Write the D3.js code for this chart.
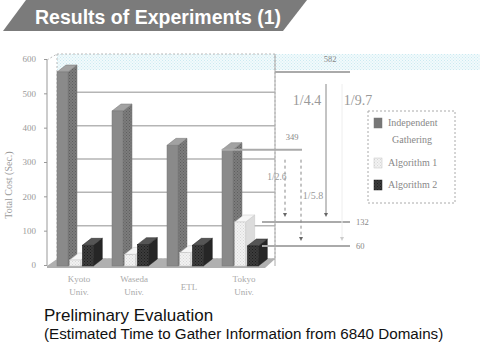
<!DOCTYPE html>
<html>
<head>
<meta charset="utf-8">
<script src="https://cdn.jsdelivr.net/npm/d3@7"></script>
<style>
  body { margin: 0; background: #fff; }
  svg { display: block; }
</style>
</head>
<body>
<svg id="svg"></svg>
<script>
var width = 480, height = 363;

// data
var categories = ['Kyoto Univ.', 'Waseda Univ.', 'ETL', 'Tokyo Univ.'];
var seriesNames = ['Independent Gathering', 'Algorithm 1', 'Algorithm 2'];
var independent = [582, 465, 362, 349];
var algorithm1 = [18, 35, 40, 132];
var algorithm2 = [62, 64, 62, 60];
var yTicks = [0, 100, 200, 300, 400, 500, 600];
var markValues = [582, 349, 132, 60];
var ratioLabels = ['1/4.4', '1/9.7', '1/2.6', '1/5.8'];

var seriesValues = [independent, algorithm1, algorithm2];
var svg = d3.select('#svg').attr('width', width).attr('height', height);

var defs = svg.append('defs');
function dots(id, bg, fg) {
  var p = defs.append('pattern').attr('id', id).attr('width', 3).attr('height', 3)
    .attr('patternUnits', 'userSpaceOnUse');
  p.append('rect').attr('width', 3).attr('height', 3).attr('fill', bg);
  p.append('rect').attr('width', 1).attr('height', 1).attr('fill', fg);
  p.append('rect').attr('x', 1.5).attr('y', 1.5).attr('width', 1).attr('height', 1).attr('fill', fg);
}
dots('sideIndep', '#7c7c7c', '#5e5e5e');
dots('frontAlg1', '#f2f2f2', '#d8d8d8');
dots('frontAlg2', '#3c3c3c', '#1e1e1e');
dots('cyan', '#f2fafc', '#cbeaf1');

// title banner
svg.append('polygon').attr('points', '3,31 26,0 307,0 283,31').attr('fill', '#7b7b7b');
svg.append('text').attr('x', 35).attr('y', 24)
  .attr('font-family', 'Liberation Sans, Arial, sans-serif').attr('font-weight', 'bold')
  .attr('font-size', 19.5).attr('fill', '#fff').text('Results of Experiments (1)');

// scales
var y = d3.scaleLinear().domain([0, 600]).range([266, 66]);
var yAxisScale = d3.scaleLinear().domain([0, 600]).range([265, 59]);
var x = d3.scaleBand().domain(categories).range([57, 277]);
var xs = d3.scaleBand().domain(seriesNames).range([0, 38]);
var barW = 11, dx = 9, dy = -7;

// light cyan band at top
svg.append('rect').attr('x', 57).attr('y', 54).attr('width', 423).attr('height', 16)
  .attr('fill', 'url(#cyan)');

// back wall
var wallL = 57, wallR = 275, wallT = 54, wallB = y(0) + dy;
svg.append('rect').attr('x', wallL).attr('y', wallT).attr('width', wallR - wallL)
  .attr('height', wallB - wallT).attr('fill', 'none').attr('stroke', '#bbb')
  .attr('stroke-dasharray', '2,2');
svg.selectAll('line.grid').data(yTicks.slice(0, 6)).enter().append('line')
  .attr('x1', wallL).attr('x2', wallR)
  .attr('y1', function (d) { return y(d) + dy; }).attr('y2', function (d) { return y(d) + dy; })
  .attr('stroke', '#b5b5b5').attr('stroke-width', 1.5);

// left axis + side wall
svg.append('line').attr('x1', 47).attr('x2', 47).attr('y1', 60).attr('y2', 266)
  .attr('stroke', '#999');
svg.append('line').attr('x1', 47).attr('x2', wallL).attr('y1', 60).attr('y2', wallT)
  .attr('stroke', '#bbb').attr('stroke-dasharray', '2,2');
svg.append('line').attr('x1', wallR).attr('x2', wallR).attr('y1', wallT).attr('y2', 266)
  .attr('stroke', '#aaa');

// floor
svg.append('polygon')
  .attr('points', [[47, y(0)], [wallL, wallB], [wallR, wallB], [wallR - 10, y(0) + 2], [47, y(0) + 2]].join(' '))
  .attr('fill', '#b0b0b0');

var axis = d3.axisLeft(yAxisScale).tickValues(yTicks).tickSize(3).tickPadding(8);
var gAxis = svg.append('g').attr('transform', 'translate(47,0)').call(axis);
gAxis.select('.domain').remove();
gAxis.selectAll('line').attr('stroke', '#999');
gAxis.selectAll('text').attr('font-family', 'Liberation Serif, serif').attr('font-size', 9)
  .attr('fill', '#999');

svg.append('text').attr('transform', 'translate(12,185) rotate(-90)').attr('text-anchor', 'middle')
  .attr('font-family', 'Liberation Serif, serif').attr('font-size', 10).attr('fill', '#999')
  .text('Total Cost (Sec.)');

// bars
var styles = [
  { front: '#8a8a8a', side: 'url(#sideIndep)', top: '#a2a2a2', stroke: '#777' },
  { front: 'url(#frontAlg1)', side: '#dcdcdc', top: '#f6f6f6', stroke: '#c4c4c4' },
  { front: 'url(#frontAlg2)', side: '#262626', top: '#555', stroke: '#222' }
];
categories.forEach(function (c, ci) {
  seriesNames.forEach(function (s, si) {
    var v = seriesValues[si][ci];
    var x0 = x(c) + xs(s), x1 = x0 + barW, y0 = y(v), yb = y(0);
    var st = styles[si];
    var g = svg.append('g');
    g.append('polygon').attr('points', [[x1, yb], [x1 + dx, yb + dy], [x1 + dx, y0 + dy], [x1, y0]].join(' '))
      .attr('fill', st.side).attr('stroke', st.stroke).attr('stroke-width', 0.5);
    g.append('polygon').attr('points', [[x0, y0], [x0 + dx, y0 + dy], [x1 + dx, y0 + dy], [x1, y0]].join(' '))
      .attr('fill', st.top).attr('stroke', st.stroke).attr('stroke-width', 0.5);
    g.append('rect').attr('x', x0).attr('y', y0).attr('width', barW).attr('height', yb - y0)
      .attr('fill', st.front).attr('stroke', st.stroke).attr('stroke-width', 0.5);
  });
});

// category labels
svg.selectAll('text.cat').data(categories).enter().append('text')
  .attr('class', 'cat').attr('text-anchor', 'middle')
  .attr('font-family', 'Liberation Serif, serif').attr('font-size', 9).attr('fill', '#aaa')
  .attr('transform', function (d) { return 'translate(' + (x(d) + 22) + ',' + (d.indexOf(' ') < 0 ? 290 : 282) + ')'; })
  .each(function (d) {
    var parts = d.split(' ');
    var t = d3.select(this);
    parts.forEach(function (p, i) {
      t.append('tspan').attr('x', 0).attr('dy', i === 0 ? 0 : 13).text(p);
    });
  });

// annotation lines
var markEnds = [350, 302, 350, 350];
var markStarts = [wallR, 222, 262, 262];
svg.selectAll('line.mark').data(markValues).enter().append('line')
  .attr('x1', function (d, i) { return markStarts[i]; })
  .attr('x2', function (d, i) { return markEnds[i]; })
  .attr('y1', function (d) { return y(d); }).attr('y2', function (d) { return y(d); })
  .attr('stroke', '#aaa').attr('stroke-width', 2);
var markLabelPos = [[330, y(582) - 10, 'middle'], [292, y(349) - 10, 'middle'], [356, y(132) + 3, 'start'], [356, y(60) + 3, 'start']];
svg.selectAll('text.mark').data(markValues).enter().append('text')
  .attr('x', function (d, i) { return markLabelPos[i][0]; })
  .attr('y', function (d, i) { return markLabelPos[i][1]; })
  .attr('text-anchor', function (d, i) { return markLabelPos[i][2]; })
  .attr('font-family', 'Liberation Serif, serif').attr('font-size', 8.5).attr('fill', '#888')
  .text(function (d) { return d; });

// ratio arrows
var arrows = [
  { x: 326, from: 582, to: 132, dash: null, lx: 307, ly: 105, size: 14 },
  { x: 342, from: 582, to: 60, dash: null, lx: 358, ly: 105, size: 14, faint: true },
  { x: 285, from: 349, to: 132, dash: '3,3', lx: 277, ly: 180, size: 9.5 },
  { x: 301, from: 349, to: 60, dash: '3,3', lx: 313, ly: 199, size: 10 }
];
arrows.forEach(function (a, i) {
  svg.append('line').attr('x1', a.x).attr('x2', a.x)
    .attr('y1', y(a.from) + (i < 2 ? 12 : 10)).attr('y2', y(a.to) - 8)
    .attr('stroke', a.faint ? '#eee' : '#888').attr('stroke-width', 1)
    .attr('stroke-dasharray', a.dash);
  svg.append('path')
    .attr('d', 'M' + (a.x - 2) + ',' + (y(a.to) - 9) + 'L' + (a.x + 2) + ',' + (y(a.to) - 9) + 'L' + a.x + ',' + (y(a.to) - 5) + 'Z')
    .attr('fill', a.faint ? '#ccc' : '#666');
  svg.append('text').attr('x', a.lx).attr('y', a.ly).attr('text-anchor', 'middle')
    .attr('font-family', 'Liberation Serif, serif').attr('font-size', a.size).attr('fill', '#999')
    .text(ratioLabels[i]);
});

// legend
var lg = svg.append('g').attr('transform', 'translate(368,111)');
lg.append('rect').attr('width', 87).attr('height', 92).attr('fill', '#fff')
  .attr('stroke', '#aaa').attr('stroke-dasharray', '2,2');
var legendRows = [[12, ['Independent', 'Gathering']], [52, ['Algorithm 1']], [74, ['Algorithm 2']]];
seriesNames.forEach(function (s, i) {
  var row = legendRows[i];
  lg.append('rect').attr('x', 6).attr('y', row[0] - 5).attr('width', 8).attr('height', 10)
    .attr('fill', i === 0 ? '#777' : styles[i].front).attr('stroke', styles[i].stroke).attr('stroke-width', 0.5);
  var t = lg.append('text').attr('font-family', 'Liberation Serif, serif').attr('font-size', 10)
    .attr('fill', '#888').attr('y', row[0] + 3);
  row[1].forEach(function (p, j) {
    t.append('tspan').attr('x', j === 0 ? 20 : 24).attr('dy', j === 0 ? 0 : 17).text(p);
  });
});

// caption
svg.append('text').attr('x', 44).attr('y', 321)
  .attr('font-family', 'Liberation Sans, Arial, sans-serif').attr('font-size', 17).attr('fill', '#111')
  .text('Preliminary Evaluation');
svg.append('text').attr('x', 44).attr('y', 339)
  .attr('font-family', 'Liberation Sans, Arial, sans-serif').attr('font-size', 15.2).attr('fill', '#111')
  .text('(Estimated Time to Gather Information from 6840 Domains)');
</script>
</body>
</html>
